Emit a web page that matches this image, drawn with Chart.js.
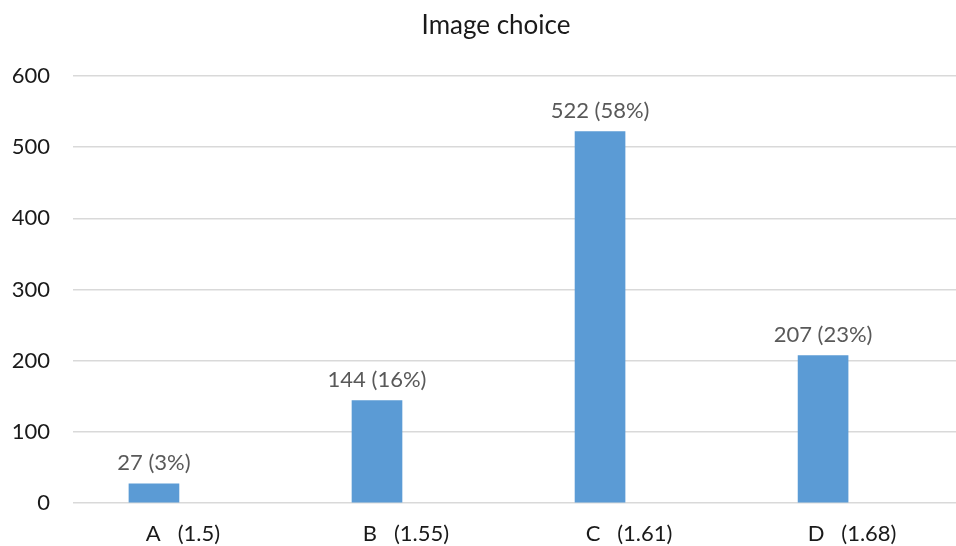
<!DOCTYPE html>
<html>
<head>
<meta charset="utf-8">
<script src="https://cdn.jsdelivr.net/npm/chart.js@4"></script>
<style>
html,body{margin:0;padding:0;background:#fff;}
#wrap{width:956px;height:546px;position:relative;}
</style>
</head>
<body>
<div id="wrap"><canvas id="c" width="956" height="546"></canvas></div>
<script>
const categories = ['A   (1.5)', 'B   (1.55)', 'C   (1.61)', 'D   (1.68)'];
const counts = [27, 144, 522, 207];
const shares = ['3%', '16%', '58%', '23%'];
const yTicks = [0, 100, 200, 300, 400, 500, 600];
const titleText = 'Image choice';

const FONT = 'Lato, "Open Sans", sans-serif';

const labelPlugin = {
  id: 'barLabels',
  afterDatasetsDraw(chart) {
    const ctx = chart.ctx;
    const meta = chart.getDatasetMeta(0);
    ctx.save();
    ctx.font = '22px ' + FONT;
    ctx.fillStyle = '#595959';
    ctx.textAlign = 'center';
    ctx.textBaseline = 'bottom';
    meta.data.forEach((bar, i) => {
      ctx.fillText(counts[i] + ' (' + shares[i] + ')', bar.x, bar.y - 10);
    });
    // chart title
    ctx.font = '26px ' + FONT;
    ctx.fillStyle = '#1a1a1a';
    ctx.textBaseline = 'middle';
    ctx.fillText(titleText, 496, 26);
    ctx.restore();
  }
};

new Chart(document.getElementById('c'), {
  type: 'bar',
  data: {
    datasets: [{
      data: counts.map((v, i) => ({ x: i, y: v })),
      backgroundColor: '#5b9bd5',
      barThickness: 50
    }]
  },
  options: {
    responsive: false,
    animation: false,
    layout: { padding: { left: 0, right: 0, top: 76, bottom: 0 } },
    plugins: {
      legend: { display: false },
      tooltip: { enabled: false },
      title: { display: false }
    },
    scales: {
      x: {
        type: 'linear',
        offset: false,
        min: -0.363,
        max: 3.596,
        grid: { display: false, offset: false },
        border: { display: false },
        afterBuildTicks(scale) {
          scale.ticks = categories.map((_, i) => ({ value: i }));
        },
        afterFit(scale) { scale.height = 43; },
        ticks: {
          padding: 10,
          labelOffset: 29,
          color: '#1a1a1a',
          font: { family: FONT, size: 22 },
          maxRotation: 0,
          autoSkip: false,
          callback: (v) => categories[v]
        }
      },
      y: {
        min: 0,
        max: 600,
        afterBuildTicks(scale) {
          scale.ticks = yTicks.map(v => ({ value: v }));
        },
        afterFit(scale) { scale.width = 73; },
        grid: { color: '#d9d9d9', lineWidth: 1.5, drawTicks: false },
        border: { display: false },
        ticks: {
          padding: 23,
          color: '#1a1a1a',
          font: { family: FONT, size: 22 }
        }
      }
    }
  },
  plugins: [labelPlugin]
});
</script>
</body>
</html>
